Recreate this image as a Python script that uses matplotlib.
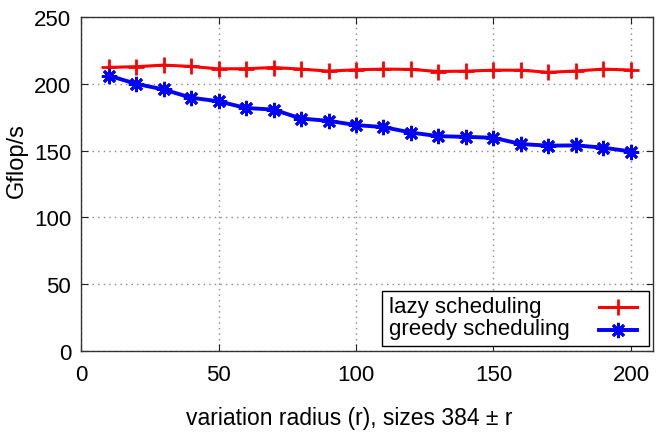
import matplotlib
matplotlib.use("Agg")
import matplotlib.pyplot as plt
from matplotlib.lines import Line2D
from matplotlib.patches import Rectangle

plt.rcParams['font.family'] = ['Liberation Sans', 'DejaVu Sans']

radius = [10, 20, 30, 40, 50, 60, 70, 80, 90, 100,
          110, 120, 130, 140, 150, 160, 170, 180, 190, 200]
lazy = [212.3, 212.8, 214.0, 213.0, 211.2, 211.3, 212.2, 211.0, 209.5, 210.5,
        211.0, 210.8, 209.2, 209.5, 210.2, 210.2, 208.6, 209.6, 211.0, 210.3]
greedy = [206.2, 200.0, 195.8, 189.6, 186.9, 181.9, 180.7, 174.0, 172.3, 169.1,
          167.6, 163.5, 160.8, 160.3, 159.6, 154.9, 153.7, 153.9, 152.2, 149.3]
labels = ['lazy scheduling', 'greedy scheduling']
colors = ['#ff0000', '#0000ff']

xticks = [0, 50, 100, 150, 200]
yticks = [0, 50, 100, 150, 200, 250]

fig = plt.figure(figsize=(6.57, 4.35), dpi=100)
ax = fig.add_axes([0.1233, 0.1908, 0.8706, 0.7678])

styles = [dict(lw=2.2, marker='+', ms=11, mew=2.0),
          dict(lw=2.8, marker=(8, 2, 0), ms=11, mew=2.0)]

ax.plot(radius, lazy, color=colors[0], **styles[0])
ax.plot(radius, greedy, color=colors[1], **styles[1])

ax.set_xlim(0, 208)
ax.set_ylim(0, 250)
ax.set_xticks(xticks)
ax.set_yticks(yticks)
ax.tick_params(direction='in', length=5, labelsize=16, top=True, right=True,
               color='#222222')
ax.tick_params(axis='x', pad=9)
ax.tick_params(axis='y', pad=7)
ax.grid(True, linestyle=(0, (1, 3)), color='#888888', lw=1.0)
for s in ax.spines.values():
    s.set_color('#333333')
    s.set_linewidth(1.0)

fig.text(0.531, 0.024, 'variation radius (r), sizes 384 ± r', fontsize=16.5,
         ha='center', va='baseline')
fig.text(0.025, 0.63, 'Gflop/s', fontsize=17, rotation=90,
         ha='center', va='center')

# gnuplot-style key: text left, sample on the right
ax.add_patch(Rectangle((0.526, 0.015), 0.467, 0.165, transform=ax.transAxes,
                       facecolor='white', edgecolor='black', lw=1.0, zorder=5))
text_y = [0.117, 0.051]
line_y = [0.131, 0.063]
for lab, c, st, ty, ly in zip(labels, colors, styles, text_y, line_y):
    ax.text(0.538, ty, lab, transform=ax.transAxes, fontsize=16,
            ha='left', va='baseline', zorder=6)
    ax.add_line(Line2D([0.906, 0.972], [ly, ly], transform=ax.transAxes,
                       color=c, lw=st['lw'], zorder=6))
    ax.add_line(Line2D([0.939], [ly], transform=ax.transAxes, color=c,
                       marker=st['marker'], ms=st['ms'], mew=st['mew'],
                       linestyle='none', zorder=6))

fig.savefig('out.png', dpi=100)
